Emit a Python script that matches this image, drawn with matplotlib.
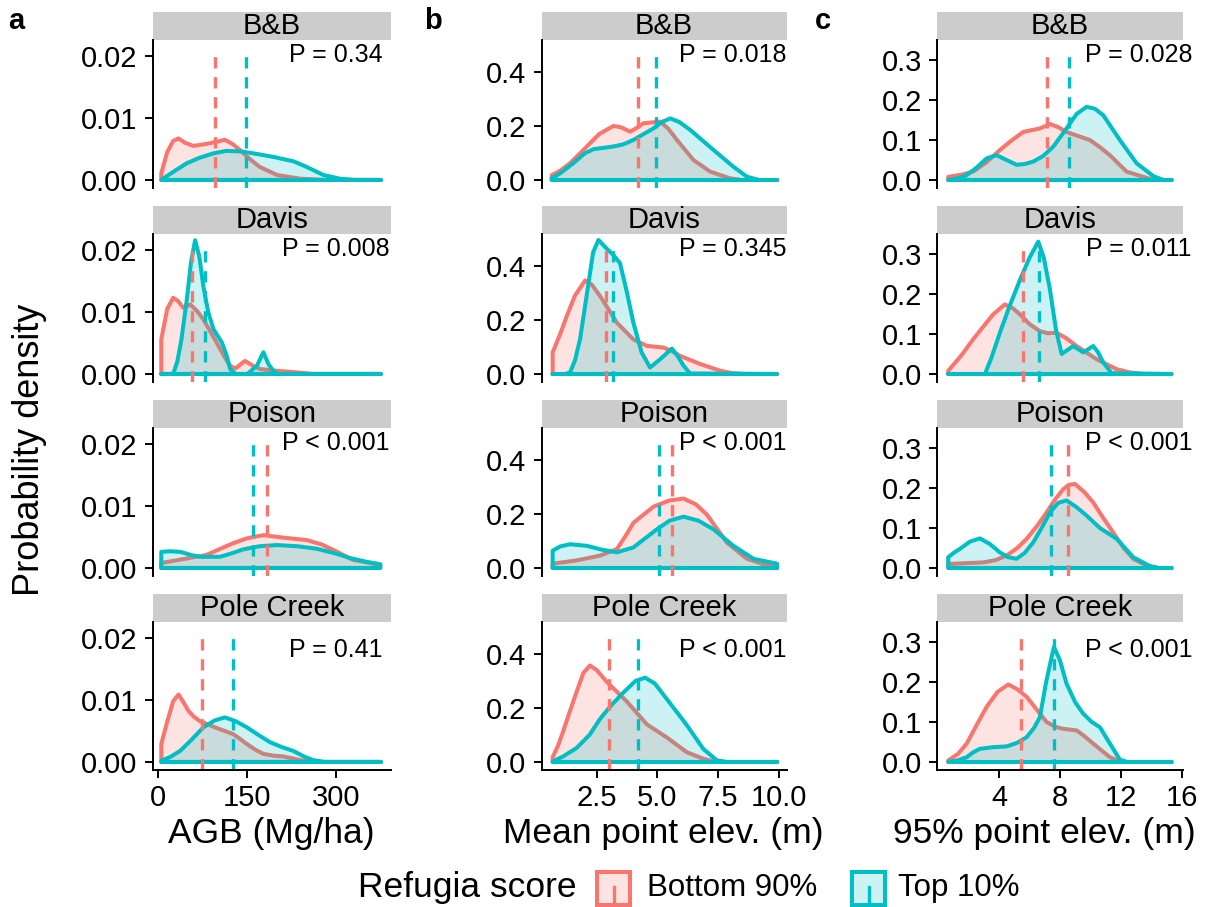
import matplotlib
matplotlib.use('Agg')
import matplotlib.pyplot as plt
from matplotlib.patches import Rectangle
from matplotlib.lines import Line2D

plt.rcParams['font.family'] = ['Liberation Sans', 'DejaVu Sans']

# ---- data (density curves as (x, y) points) ----
sites = ['B&B', 'Davis', 'Poison', 'Pole Creek']
groups = ['Bottom 90%', 'Top 10%']
group_colors = ['#F8766D', '#00BFC4']

# a) AGB (Mg/ha)
agb_bb_bottom = [(5, 0.0011), (15, 0.0045), (25, 0.0063), (34, 0.0067), (45, 0.0060), (59, 0.0055),
                 (80, 0.0058), (100, 0.0062), (112, 0.0065), (125, 0.0058), (138, 0.0048), (155, 0.0033),
                 (171, 0.0021), (200, 0.0008), (239, 0.0002), (280, 0.0), (375, 0.0)]
agb_bb_top = [(5, 0.0), (25, 0.0013), (48, 0.0027), (70, 0.0036), (93, 0.0043), (115, 0.0047),
              (138, 0.0046), (160, 0.0043), (195, 0.0037), (228, 0.0030), (250, 0.0021), (278, 0.0008),
              (306, 0.0002), (330, 0.0), (375, 0.0)]
agb_davis_bottom = [(5, 0.0056), (15, 0.0105), (25, 0.0123), (33, 0.0118), (42, 0.0107), (54, 0.0112),
                    (65, 0.0102), (76, 0.0088), (88, 0.0068), (98, 0.0051), (110, 0.0030), (121, 0.0013),
                    (130, 0.0009), (146, 0.0021), (160, 0.0013), (171, 0.0008), (200, 0.0005),
                    (228, 0.0003), (260, 0.0), (375, 0.0)]
agb_davis_top = [(5, 0.0), (25, 0.0), (32, 0.0020), (39, 0.0056), (48, 0.0120), (55, 0.0180), (62, 0.0216),
                 (69, 0.0190), (76, 0.0141), (84, 0.0100), (93, 0.0072), (107, 0.0051), (115, 0.0030),
                 (121, 0.0008), (130, 0.0), (150, 0.0), (166, 0.0013), (177, 0.0035), (186, 0.0015),
                 (194, 0.0005), (200, 0.0), (375, 0.0)]
agb_poison_bottom = [(5, 0.0008), (40, 0.0014), (81, 0.0021), (126, 0.0040), (150, 0.0048), (177, 0.0053),
                     (210, 0.0049), (250, 0.0045), (275, 0.0038), (295, 0.0029), (328, 0.0013), (374, 0.0005)]
agb_poison_top = [(5, 0.0026), (20, 0.0027), (37, 0.0026), (55, 0.0021), (70, 0.0018), (104, 0.0018),
                  (125, 0.0024), (143, 0.0030), (170, 0.0035), (200, 0.0037), (235, 0.0035), (267, 0.0031),
                  (300, 0.0023), (323, 0.0016), (350, 0.0010), (374, 0.0006)]
agb_pole_bottom = [(5, 0.0029), (15, 0.0065), (25, 0.0098), (34, 0.0109), (42, 0.0097), (51, 0.0082),
                   (60, 0.0073), (70, 0.0066), (85, 0.0060), (98, 0.0055), (112, 0.0050), (126, 0.0045),
                   (138, 0.0037), (149, 0.0029), (163, 0.0020), (177, 0.0013), (195, 0.0010), (210, 0.0009),
                   (239, 0.0003), (260, 0.0), (375, 0.0)]
agb_pole_top = [(5, 0.0002), (20, 0.0008), (37, 0.0018), (55, 0.0035), (76, 0.0056), (95, 0.0067),
                (112, 0.0072), (130, 0.0066), (149, 0.0056), (168, 0.0044), (188, 0.0032), (208, 0.0024),
                (227, 0.0018), (245, 0.0009), (261, 0.0003), (280, 0.0), (375, 0.0)]

# b) Mean point elev. (m)
mean_bb_bottom = [(0.64, 0.018), (1.0, 0.035), (1.4, 0.062), (2.09, 0.124), (2.6, 0.17), (3.19, 0.200),
                  (3.5, 0.195), (3.88, 0.179), (4.1, 0.19), (4.43, 0.210), (5.12, 0.216), (5.45, 0.19),
                  (5.81, 0.148), (6.49, 0.074), (7.18, 0.031), (8.0, 0.006), (8.5, 0.0), (9.94, 0.0)]
mean_bb_top = [(0.64, 0.006), (1.0, 0.025), (1.53, 0.062), (2.0, 0.098), (2.36, 0.114), (3.19, 0.124),
               (3.6, 0.132), (4.01, 0.148), (4.84, 0.191), (5.2, 0.215), (5.53, 0.228), (5.9, 0.215),
               (6.36, 0.185), (7.32, 0.111), (8.14, 0.049), (8.7, 0.012), (9.2, 0.0), (9.94, 0.0)]
mean_davis_bottom = [(0.68, 0.08), (1.0, 0.15), (1.26, 0.214), (1.6, 0.29), (2.02, 0.346), (2.3, 0.33),
                     (2.64, 0.288), (3.33, 0.19), (4.01, 0.128), (4.57, 0.104), (5.25, 0.098), (5.6, 0.085),
                     (5.94, 0.067), (6.77, 0.037), (7.6, 0.012), (8.1, 0.003), (8.6, 0.0), (9.94, 0.0)]
mean_davis_top = [(0.68, 0.0), (1.2, 0.0), (1.4, 0.006), (1.6, 0.05), (1.81, 0.128), (2.1, 0.3), (2.35, 0.45),
                  (2.57, 0.496), (2.9, 0.465), (3.19, 0.44), (3.46, 0.41), (3.75, 0.30), (4.01, 0.19),
                  (4.35, 0.08), (4.7, 0.024), (5.12, 0.055), (5.6, 0.094), (5.85, 0.065), (6.08, 0.031),
                  (6.35, 0.002), (9.94, 0.0)]
mean_poison_bottom = [(0.68, 0.016), (1.67, 0.028), (2.64, 0.046), (3.33, 0.07), (3.7, 0.12), (4.01, 0.167),
                      (4.84, 0.227), (5.5, 0.25), (6.08, 0.257), (6.6, 0.235), (7.05, 0.197), (7.87, 0.094),
                      (8.7, 0.034), (9.52, 0.01), (9.94, 0.003)]
mean_poison_top = [(0.68, 0.064), (1.0, 0.08), (1.4, 0.088), (2.09, 0.082), (2.7, 0.068), (3.33, 0.058),
                   (4.01, 0.076), (4.5, 0.11), (4.98, 0.143), (5.5, 0.175), (6.08, 0.19), (6.7, 0.175),
                   (7.32, 0.143), (8.14, 0.082), (8.97, 0.034), (9.94, 0.016)]
mean_pole_bottom = [(0.68, 0.018), (0.9, 0.06), (1.12, 0.115), (1.4, 0.19), (1.67, 0.26), (1.95, 0.33),
                    (2.22, 0.357), (2.5, 0.34), (2.91, 0.297), (3.74, 0.224), (4.57, 0.139), (5.39, 0.091),
                    (6.22, 0.036), (6.9, 0.012), (7.4, 0.0), (9.94, 0.0)]
mean_pole_top = [(0.68, 0.002), (1.1, 0.02), (1.67, 0.052), (2.2, 0.1), (2.64, 0.16), (3.1, 0.21),
                 (3.6, 0.257), (4.1, 0.3), (4.5, 0.312), (4.9, 0.29), (5.39, 0.233), (6.22, 0.136),
                 (6.9, 0.048), (7.46, 0.006), (7.9, 0.0), (9.94, 0.0)]

# c) 95% point elev. (m)
p95_bb_bottom = [(0.67, 0.008), (1.5, 0.013), (2.31, 0.021), (3.2, 0.045), (4.06, 0.075), (4.8, 0.098),
                 (5.59, 0.120), (6.69, 0.129), (7.35, 0.14), (7.9, 0.132), (8.44, 0.12), (9.2, 0.11),
                 (9.97, 0.10), (10.6, 0.083), (11.29, 0.062), (12.38, 0.021), (13.47, 0.008), (14.2, 0.0),
                 (15.33, 0.0)]
p95_bb_top = [(0.67, 0.0), (1.3, 0.004), (1.88, 0.012), (2.5, 0.03), (3.19, 0.054), (3.85, 0.062),
              (4.5, 0.05), (5.16, 0.038), (5.7, 0.04), (6.25, 0.046), (6.9, 0.06), (7.56, 0.083),
              (8.44, 0.129), (9.1, 0.165), (9.76, 0.183), (10.3, 0.178), (10.85, 0.162), (11.94, 0.1),
              (13.04, 0.042), (14.13, 0.01), (14.8, 0.0), (15.33, 0.0)]
p95_davis_bottom = [(0.67, 0.008), (1.5, 0.045), (2.31, 0.087), (3.0, 0.12), (3.62, 0.149), (4.39, 0.174),
                    (4.9, 0.165), (5.38, 0.149), (6.0, 0.125), (6.69, 0.107), (7.2, 0.102), (7.79, 0.103),
                    (8.4, 0.09), (9.1, 0.07), (10.41, 0.037), (11.73, 0.012), (12.6, 0.004), (13.5, 0.0),
                    (15.33, 0.0)]
p95_davis_top = [(0.67, 0.0), (3.08, 0.0), (3.5, 0.04), (4.06, 0.103), (4.7, 0.17), (5.38, 0.235),
                 (6.0, 0.29), (6.58, 0.331), (6.95, 0.29), (7.35, 0.211), (7.75, 0.11), (8.12, 0.05),
                 (8.5, 0.06), (8.88, 0.07), (9.54, 0.054), (10.19, 0.07), (10.5, 0.055), (10.85, 0.029),
                 (11.4, 0.002), (15.33, 0.0)]
p95_poison_bottom = [(0.67, 0.01), (1.8, 0.012), (2.97, 0.014), (3.8, 0.02), (4.5, 0.031), (5.2, 0.05),
                     (5.82, 0.073), (6.5, 0.105), (7.13, 0.139), (7.7, 0.172), (8.22, 0.197), (8.6, 0.208),
                     (8.99, 0.21), (9.6, 0.19), (10.19, 0.164), (10.8, 0.128), (11.5, 0.089), (12.2, 0.05),
                     (12.82, 0.023), (13.7, 0.006), (14.4, 0.0), (15.33, 0.0)]
p95_poison_top = [(0.67, 0.027), (1.0, 0.037), (1.44, 0.048), (2.1, 0.066), (2.75, 0.074), (3.4, 0.06),
                  (4.06, 0.039), (4.6, 0.027), (5.16, 0.023), (5.7, 0.038), (6.25, 0.064), (6.8, 0.1),
                  (7.35, 0.139), (7.9, 0.163), (8.44, 0.169), (9.1, 0.152), (9.76, 0.131), (10.63, 0.1),
                  (11.73, 0.073), (12.82, 0.027), (13.9, 0.005), (14.5, 0.0), (15.33, 0.0)]
p95_pole_bottom = [(0.67, 0.004), (1.3, 0.02), (1.88, 0.046), (2.5, 0.09), (3.19, 0.138), (3.9, 0.175),
                   (4.61, 0.194), (5.2, 0.182), (5.82, 0.163), (6.5, 0.13), (7.13, 0.1), (7.7, 0.088),
                   (8.22, 0.083), (9.1, 0.079), (9.6, 0.065), (10.19, 0.046), (11.29, 0.012), (11.9, 0.002),
                   (12.5, 0.0), (15.33, 0.0)]
p95_pole_top = [(0.67, 0.0), (1.3, 0.004), (1.88, 0.012), (2.3, 0.024), (2.75, 0.033), (3.6, 0.037),
                (4.5, 0.039), (5.2, 0.048), (5.82, 0.062), (6.3, 0.085), (6.69, 0.112), (7.1, 0.2),
                (7.61, 0.288), (8.0, 0.255), (8.44, 0.196), (9.0, 0.15), (9.53, 0.121), (10.1, 0.1),
                (10.63, 0.087), (11.29, 0.046), (11.94, 0.006), (12.4, 0.0), (15.33, 0.0)]

# group means (dashed lines), order = sites
agb_mean_bottom = [95.5, 56, 183, 73]
agb_mean_top = [147, 79, 160, 125]
mean_mean_bottom = [4.19, 2.88, 5.6, 3.01]
mean_mean_top = [4.95, 3.19, 5.05, 4.22]
p95_mean_bottom = [7.13, 5.55, 8.55, 5.42]
p95_mean_top = [8.62, 6.65, 7.39, 7.61]

agb_p = ['P = 0.34', 'P = 0.008', 'P < 0.001', 'P = 0.41']
mean_p = ['P = 0.018', 'P = 0.345', 'P < 0.001', 'P < 0.001']
p95_p = ['P = 0.028', 'P = 0.011', 'P < 0.001', 'P < 0.001']

agb_yticks = [0, 0.01, 0.02]
mean_yticks = [0, 0.2, 0.4]
p95_yticks = [0, 0.1, 0.2, 0.3]
agb_xticks = [0, 150, 300]
mean_xticks = [2.5, 5.0, 7.5, 10.0]
p95_xticks = [4, 8, 12, 16]

columns = [
    dict(letter='a', xlabel='AGB (Mg/ha)',
         curves=[(agb_bb_bottom, agb_bb_top), (agb_davis_bottom, agb_davis_top),
                 (agb_poison_bottom, agb_poison_top), (agb_pole_bottom, agb_pole_top)],
         means=(agb_mean_bottom, agb_mean_top), pvals=agb_p,
         yticks=agb_yticks, yfmt='{:.2f}', xticks=agb_xticks, xfmt='{:g}',
         xlim=(-9.8, 392), ylim=(-0.0013, 0.0226)),
    dict(letter='b', xlabel='Mean point elev. (m)',
         curves=[(mean_bb_bottom, mean_bb_top), (mean_davis_bottom, mean_davis_top),
                 (mean_poison_bottom, mean_poison_top), (mean_pole_bottom, mean_pole_top)],
         means=(mean_mean_bottom, mean_mean_top), pvals=mean_p,
         yticks=mean_yticks, yfmt='{:.1f}', xticks=mean_xticks, xfmt='{:.1f}',
         xlim=(0.22, 10.33), ylim=(-0.0296, 0.518)),
    dict(letter='c', xlabel='95% point elev. (m)',
         curves=[(p95_bb_bottom, p95_bb_top), (p95_davis_bottom, p95_davis_top),
                 (p95_poison_bottom, p95_poison_top), (p95_pole_bottom, p95_pole_top)],
         means=(p95_mean_bottom, p95_mean_top), pvals=p95_p,
         yticks=p95_yticks, yfmt='{:.1f}', xticks=p95_xticks, xfmt='{:g}',
         xlim=(-0.05, 16.09), ylim=(-0.02, 0.35)),
]

# ---- layout (pixels of the 1211x907 canvas) ----
W, H = 1211, 907
fig = plt.figure(figsize=(W / 100, H / 100), dpi=100)


def fx(px):
    return px / W


def fy(py):
    return 1 - py / H


col_bounds = [(152.5, 391), (541.5, 786.5), (937.3, 1183)]
row_tops = [40, 234, 428, 622]
panel_h = 148
strip_h = 28
p_xfrac = [0.77, 0.78, 0.82]
p_yfrac = [0.90, 0.90, 0.90, 0.81]
xlabel_x = [271, 663, 1044]

for ci, col in enumerate(columns):
    left, right = col_bounds[ci]
    for ri, site in enumerate(sites):
        top = row_tops[ri]
        ax = fig.add_axes([fx(left), fy(top + panel_h), fx(right) - fx(left), panel_h / H])
        ax.set_xlim(*col['xlim'])
        ax.set_ylim(*col['ylim'])

        # densities: bottom 90% first, top 10% on top
        for gi, pts in enumerate(col['curves'][ri]):
            xs = [p[0] for p in pts]
            ys = [p[1] for p in pts]
            poly_x = [xs[0]] + xs + [xs[-1]]
            poly_y = [0] + ys + [0]
            c = group_colors[gi]
            ax.fill(poly_x, poly_y, facecolor=c, alpha=0.2, edgecolor='none')
            ax.fill(poly_x, poly_y, facecolor='none', edgecolor=c, lw=2.9, joinstyle='round')

        for gi in range(2):
            ax.axvline(col['means'][gi][ri], ymin=0, ymax=0.9, color=group_colors[gi],
                       lw=2.4, ls=(0, (3.4, 2.6)))

        ax.text(p_xfrac[ci], p_yfrac[ri], col['pvals'][ri], transform=ax.transAxes,
                ha='center', va='center', fontsize=18)

        # strip
        ax.add_patch(Rectangle((0, 1), 1, strip_h / panel_h, transform=ax.transAxes,
                               facecolor='#cccccc', edgecolor='none', clip_on=False))
        ax.text(0.5, 1 + strip_h / panel_h / 2, site, transform=ax.transAxes,
                ha='center', va='center', fontsize=21)

        for s in ['top', 'right']:
            ax.spines[s].set_visible(False)
        ax.spines['left'].set_linewidth(1.4)
        ax.set_yticks(col['yticks'])
        ax.set_yticklabels([col['yfmt'].format(v) for v in col['yticks']])
        ax.tick_params(axis='y', length=6, width=1.4, pad=5, labelsize=21)
        if ri == len(sites) - 1:
            ax.spines['bottom'].set_linewidth(1.4)
            ax.set_xticks(col['xticks'])
            ax.set_xticklabels([col['xfmt'].format(v) for v in col['xticks']])
            ax.tick_params(axis='x', length=6, width=1.4, pad=4, labelsize=21)
        else:
            ax.spines['bottom'].set_visible(False)
            ax.set_xticks([])

    fig.text(fx(xlabel_x[ci]), fy(834), col['xlabel'], ha='center', va='center', fontsize=25.5)
    fig.text(fx([8, 424, 815][ci]), fy(21), col['letter'], ha='left', va='center',
             fontsize=21, fontweight='bold')

fig.text(fx(30), fy(450), 'Probability density', rotation=90, ha='center', va='center', fontsize=26)

# legend
fig.text(fx(577), fy(888), 'Refugia score', ha='right', va='center', fontsize=25.5)
key_left = [597, 852]
label_left = [647, 898]
for gi, g in enumerate(groups):
    c = group_colors[gi]
    kx0, kw, ky0, kh = key_left[gi], 33, 872, 33
    fig.add_artist(Rectangle((fx(kx0), fy(ky0 + kh)), kw / W, kh / H, transform=fig.transFigure,
                             facecolor=c, alpha=0.2, edgecolor='none'))
    fig.add_artist(Rectangle((fx(kx0), fy(ky0 + kh)), kw / W, kh / H, transform=fig.transFigure,
                             facecolor='none', edgecolor=c, lw=2.9))
    fig.add_artist(Line2D([fx(kx0 + kw / 2)] * 2, [fy(ky0 + kh), fy(ky0 + kh * 0.45)],
                          transform=fig.transFigure, color=c, lw=2.4))
    fig.text(fx(label_left[gi]), fy(888), g, ha='left', va='center', fontsize=22.5)

fig.savefig('out.png', dpi=100)
